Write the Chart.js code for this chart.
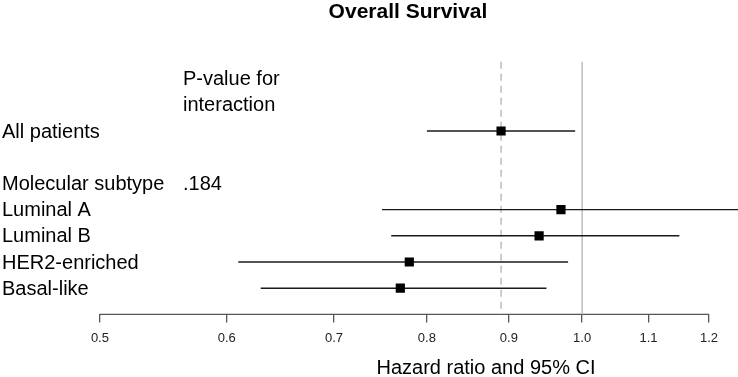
<!DOCTYPE html>
<html>
<head>
<meta charset="utf-8">
<script src="https://cdn.jsdelivr.net/npm/chart.js"></script>
<style>
  body { margin: 0; background: #fff; }
</style>
</head>
<body>
<canvas id="forest" width="738" height="377"></canvas>
<script>
// rows, top to bottom (row index on the y scale)
const rowLabels    = ['All patients', 'Molecular subtype', 'Luminal A', 'Luminal B', 'HER2-enriched', 'Basal-like'];
const rowPos       = [2, 4, 5, 6, 7, 8];
const hazard       = [0.89, null, 0.97, 0.94, 0.78, 0.77];
const ciLower      = [0.80, null, 0.75, 0.76, 0.61, 0.63];
const ciUpper      = [0.99, null, 1.27, 1.15, 0.98, 0.95];
const pInteraction = ['', '.184', '', '', '', ''];
const pHeader      = ['P-value for', 'interaction'];
const xTicks       = [0.5, 0.6, 0.7, 0.8, 0.9, 1.0, 1.1, 1.2];
const overallHR    = 0.89;
const nullHR       = 1.0;
const chartTitle   = 'Overall Survival';
const axisTitle    = 'Hazard ratio and 95% CI';

const FONT = '"Liberation Sans", Arial, Helvetica, sans-serif';

// points and CI segments
const points = [];
const ciSets = [];
rowPos.forEach((r, i) => {
    if (hazard[i] == null) return;
    points.push({ x: hazard[i], y: r });
    ciSets.push({
        data: [{ x: ciLower[i], y: r }, { x: ciUpper[i], y: r }],
        showLine: true,
        borderColor: '#1a1a1a',
        borderWidth: 1.4,
        pointRadius: 0
    });
});

function refLine(value, dash) {
    return {
        data: [{ x: value, y: -0.64 }, { x: value, y: 9 }],
        showLine: true,
        borderColor: '#bcbcbc',
        borderWidth: 1.5,
        borderDash: dash,
        pointRadius: 0
    };
}

const textPlugin = {
    id: 'forestText',
    afterDraw(chart) {
        const ctx = chart.ctx;
        const y = chart.scales.y;
        ctx.save();
        ctx.fillStyle = '#000';
        ctx.textBaseline = 'middle';
        ctx.textAlign = 'left';
        ctx.font = '20px ' + FONT;
        rowLabels.forEach((t, i) => ctx.fillText(t, 2, y.getPixelForValue(rowPos[i]) + 1));
        pInteraction.forEach((t, i) => { if (t) ctx.fillText(t, 183, y.getPixelForValue(rowPos[i]) + 1); });
        pHeader.forEach((t, i) => ctx.fillText(t, 183, y.getPixelForValue(i) + 1));
        ctx.textAlign = 'center';
        ctx.fillText(axisTitle, 486, 368);
        ctx.font = 'bold 21px ' + FONT;
        ctx.fillText(chartTitle, 408, 12);
        ctx.restore();
    }
};

new Chart(document.getElementById('forest').getContext('2d'), {
    type: 'scatter',
    data: {
        datasets: [
            {
                data: points,
                pointStyle: 'rect',
                pointRadius: 6.5,
                backgroundColor: '#000',
                borderColor: '#000',
                borderWidth: 0
            },
            ...ciSets,
            refLine(overallHR, [7, 5]),
            refLine(nullHR, []),
            {
                // x axis line, only over the tick range
                data: [{ x: xTicks[0], y: 9 }, { x: xTicks[xTicks.length - 1], y: 9 }],
                showLine: true,
                borderColor: '#555',
                borderWidth: 1.3,
                pointRadius: 0,
                clip: false
            }
        ]
    },
    options: {
        responsive: false,
        animation: false,
        events: [],
        layout: { autoPadding: false, padding: { left: 0, right: 0, top: 0, bottom: 23 } },
        plugins: {
            legend: { display: false },
            tooltip: { enabled: false },
            title: { display: false }
        },
        scales: {
            x: {
                type: 'logarithmic',
                min: 0.4331,
                max: 1.2511,
                bounds: 'data',
                afterBuildTicks: (scale) => {
                    scale.ticks = xTicks.map(v => ({ value: v }));
                },
                afterFit: (scale) => {
                    scale.paddingLeft = 0;
                    scale.paddingRight = 0;
                },
                ticks: {
                    autoSkip: false,
                    maxRotation: 0,
                    padding: 8,
                    color: '#222',
                    font: { family: FONT, size: 13 },
                    callback: (v) => Number(v).toFixed(1)
                },
                grid: {
                    display: true,
                    drawOnChartArea: false,
                    drawTicks: true,
                    tickLength: 8,
                    color: '#555',
                    lineWidth: 1.3
                },
                border: { display: false }
            },
            y: {
                type: 'linear',
                min: -3,
                max: 9,
                reverse: true,
                display: false
            }
        }
    },
    plugins: [textPlugin]
});
</script>
</body>
</html>
